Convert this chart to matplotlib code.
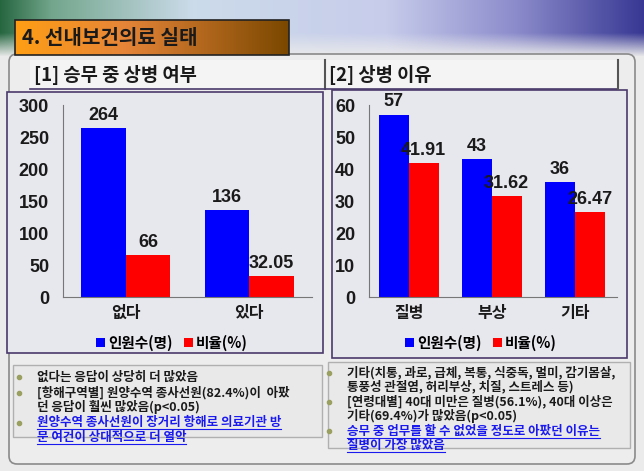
import numpy as np
import matplotlib.pyplot as plt
from matplotlib.patches import Rectangle, FancyBboxPatch

plt.rcParams['font.family'] = ['Noto Sans CJK KR', 'DejaVu Sans']
plt.rcParams['font.weight'] = 'bold'
NUM_FONT = ['Liberation Sans', 'DejaVu Sans']

# Data
title = '4. 선내보건의료 실태'
left_header = '[1] 승무 중 상병 여부'
right_header = '[2] 상병 이유'
series_names = ['인원수(명)', '비율(%)']

left_cats = ['없다', '있다']
left_count = [264, 136]
left_pct = [66, 32.05]
left_yticks = [0, 50, 100, 150, 200, 250, 300]

right_cats = ['질병', '부상', '기타']
right_count = [57, 43, 36]
right_pct = [41.91, 31.62, 26.47]
right_yticks = [0, 10, 20, 30, 40, 50, 60]

left_notes = [
    ('없다는 응답이 상당히 더 많았음', False),
    ('[항해구역별] 원양수역 종사선원(82.4%)이  아팠\n던 응답이 훨씬 많았음(p<0.05)', False),
    ('원양수역 종사선원이 장거리 항해로 의료기관 방\n문 여건이 상대적으로 더 열악', True),
]
right_notes = [
    ('기타(치통, 과로, 급체, 복통, 식중독, 멀미, 감기몸살,\n통풍성 관절염, 허리부상, 치질, 스트레스 등)', False),
    ('[연령대별] 40대 미만은 질병(56.1%), 40대 이상은\n기타(69.4%)가 많았음(p<0.05)', False),
    ('승무 중 업무를 할 수 없었을 정도로 아팠던 이유는\n질병이 가장 많았음', True),
]

W, H = 644, 471
fig = plt.figure(figsize=(W / 100, H / 100), dpi=100)

# background layer in pixel coords
bg = fig.add_axes([0, 0, 1, 1])
bg.set_xlim(0, W)
bg.set_ylim(H, 0)
bg.axis('off')

# sky gradient at the top
xs = np.linspace(0, 1, W)
stops = [0, 0.08, 0.3, 0.6, 0.8, 1.0]
cols = np.array([[0.15, 0.40, 0.25], [0.45, 0.65, 0.55], [0.80, 0.86, 0.92],
                 [0.78, 0.80, 0.92], [0.55, 0.55, 0.80], [0.22, 0.22, 0.58]])
row = np.stack([np.interp(xs, stops, cols[:, i]) for i in range(3)], axis=1)
ys = np.linspace(0, 1, 60)
fade = np.clip((ys - 0.55) / 0.4, 0, 1)[:, None, None]
base = np.array([0.92, 0.92, 0.92])
sky = row[None, :, :] * (1 - fade) + base * fade
bg.add_patch(Rectangle((0, 0), W, H, color='#ebebeb', zorder=0))
bg.imshow(sky, extent=[0, W, 60, 0], aspect='auto', zorder=1)

# main rounded panel
bg.add_patch(FancyBboxPatch((9, 54), 626, 410, boxstyle='round,pad=0,rounding_size=8',
                            fc='#ededed', ec='#8a8a8a', lw=1.2, zorder=2))

# title box with orange gradient
tg = np.linspace(0, 1, 200)
tcol = np.stack([np.interp(tg, [0, 0.4, 1], c) for c in
                 ([1.0, 0.90, 0.48], [0.62, 0.52, 0.28], [0.08, 0.22, 0.0])], axis=1)
bg.imshow(tcol[None, :, :], extent=[15, 289, 55, 20], aspect='auto', zorder=3)
bg.add_patch(Rectangle((15, 20), 274, 35, fill=False, ec='#222222', lw=1.2, zorder=4))
bg.text(22, 38, title, fontsize=14.5, color='#1a1a1a', va='center', ha='left', zorder=5)

# section headers
for x0, x1, txt in [(30, 325, left_header), (325, 618, right_header)]:
    bg.add_patch(Rectangle((x0, 60), x1 - x0, 29, fc='#f4f4f4', ec='none', zorder=3))
    bg.plot([x0, x1], [89, 89], color='#4a3a6a', lw=1.2, zorder=4)
    bg.plot([x1, x1], [60, 89], color='#555555', lw=1.5, zorder=4)
    bg.text(x0 + 4, 75, txt, fontsize=13.5, color='#1a1a1a', va='center', zorder=5)

# chart frames
bg.add_patch(Rectangle((7, 92), 316, 261, fc='#e7e7ee', ec='#4a3a6a', lw=1.2, zorder=3))
bg.add_patch(Rectangle((332, 90), 295, 268, fc='#e7e7ee', ec='#4a3a6a', lw=1.2, zorder=3))

# note boxes
bg.add_patch(Rectangle((13, 365), 309, 72, fc='#e9e9e9', ec='#b0b0b0', lw=1, zorder=3))
bg.add_patch(Rectangle((328, 362), 302, 86, fc='#e9e9e9', ec='#b0b0b0', lw=1, zorder=3))


def note_block(x, y0, notes, step):
    y = y0
    for txt, link in notes:
        bg.plot(x - 18, y, 'o', ms=3, color='#9aa060', zorder=5)
        for ln in txt.split('\n'):
            t = bg.text(x, y, ln, fontsize=9, va='center', ha='left',
                        color='#1a1aee' if link else '#1a1a1a', zorder=5)
            if link:
                fig.canvas.draw()
                bb = t.get_window_extent().transformed(bg.transData.inverted())
                bg.plot([bb.x0, bb.x1], [y + 6.5, y + 6.5], color='#1a1aee', lw=0.8, zorder=5)
            y += step
        y += 1


note_block(37, 377, left_notes, 14.5)
note_block(347, 373, right_notes, 14)


def bar_chart(px, cats, counts, pcts, yticks, xlim, leg_x):
    x0, x1, ytop, ybot = px
    ax = fig.add_axes([x0 / W, 1 - ybot / H, (x1 - x0) / W, (ybot - ytop) / H])
    ax.set_facecolor('none')
    pos = np.arange(len(cats))
    w = 0.36
    b1 = ax.bar(pos - w / 2, counts, w, color='#0000ff', label=series_names[0])
    b2 = ax.bar(pos + w / 2, pcts, w, color='#ff0000', label=series_names[1])
    for bars, vals in [(b1, counts), (b2, pcts)]:
        for r, v in zip(bars, vals):
            ax.annotate(f'{v:g}', (r.get_x() + r.get_width() / 2, r.get_height()),
                        xytext=(0, 3), textcoords='offset points', ha='center', va='bottom',
                        fontsize=13, fontweight='bold', color='#1a1a1a', family=NUM_FONT)
    ax.set_xlim(*xlim)
    ax.set_ylim(yticks[0], yticks[-1])
    ax.set_yticks(yticks)
    ax.set_yticklabels([str(t) for t in yticks])
    for lab in ax.get_yticklabels():
        lab.set_fontfamily(NUM_FONT)
        lab.set_fontweight('bold')
        lab.set_fontsize(13)
        lab.set_color('#1a1a1a')
    ax.set_xticks(pos)
    ax.set_xticklabels(cats, fontsize=11.5, color='#1a1a1a')
    ax.tick_params(axis='y', length=0, pad=10)
    ax.tick_params(axis='x', length=0, pad=6)
    for s in ['top', 'right']:
        ax.spines[s].set_visible(False)
    for s in ['left', 'bottom']:
        ax.spines[s].set_color('#777777')
    ax.legend(loc='center', bbox_to_anchor=((leg_x - x0) / (x1 - x0), -(343 - ybot) / (ybot - ytop)),
              ncol=2, frameon=False, fontsize=10.5, handlelength=0.6, handleheight=0.6,
              handletextpad=0.2, columnspacing=0.8, borderaxespad=0)
    return ax


bar_chart((63, 312, 105, 297), left_cats, left_count, left_pct, left_yticks, (-0.51, 1.51), 172)
bar_chart((369, 617, 105, 297), right_cats, right_count, right_pct, right_yticks, (-0.48, 2.51), 481)

fig.savefig('out.png', dpi=100)
